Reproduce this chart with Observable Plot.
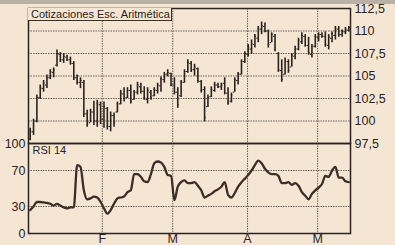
<!DOCTYPE html>
<html><head><meta charset="utf-8">
<script src="https://cdn.jsdelivr.net/npm/d3@7"></script>
<script src="https://cdn.jsdelivr.net/npm/@observablehq/plot@0.6"></script>
<style>
html,body{margin:0;padding:0;}
body{background:#f4e6d3;width:395px;height:245px;overflow:hidden;position:relative;font-family:"Liberation Sans",Arial,sans-serif;color:#2a2420;}
#rsi,#price{position:absolute;left:0;}
#price{top:0;}
#rsi{top:135px;}
#hdr{position:absolute;left:0;top:0;width:395px;height:4px;background:#b9b1a6;overflow:hidden;}
#titlebox{position:absolute;left:28px;top:8px;width:144px;height:13px;border-right:1px solid #3a302a;border-bottom:1px solid #3a302a;background:#f4e6d3;font-size:11px;line-height:13px;padding-left:3px;box-sizing:border-box;white-space:nowrap;}
</style></head><body>
<div id="hdr"></div>
<div id="rsi"></div>
<div id="price"></div>
<div id="titlebox">Cotizaciones Esc. Aritmética</div>
<script>
// price bars (trading-day index 0..95)
const high = [99.2,100.2,102.9,104.0,104.5,105.1,105.7,105.9,107.9,107.6,107.5,107.3,107.1,106.6,105.1,104.8,104.5,101.2,101.3,102.2,102.3,102.1,102.1,101.5,101.0,100.9,102.1,103.4,103.7,103.7,104.0,103.4,104.3,104.2,103.8,103.7,103.4,103.7,104.2,104.9,105.4,105.7,105.3,104.8,103.7,104.5,105.7,106.8,106.6,106.3,105.9,104.5,103.8,102.9,103.8,104.3,104.2,104.2,104.8,103.7,103.1,104.8,105.4,106.8,107.7,108.5,109.0,109.6,110.5,111.0,110.9,110.1,109.8,109.6,107.6,106.8,107.0,106.8,107.5,108.3,109.2,109.8,109.6,109.3,108.5,109.6,109.8,109.8,109.9,109.6,109.9,110.5,110.5,110.1,110.4,110.5];
const low = [97.8,98.4,99.8,102.4,103.2,103.6,104.6,104.8,106.0,106.5,106.4,106.6,106.2,104.5,104.0,103.6,100.4,99.3,99.8,99.5,99.3,99.6,99.2,99.0,98.8,99.3,100.9,101.8,102.1,102.5,101.9,102.3,102.9,103.0,102.3,101.9,102.3,102.7,103.0,103.2,104.2,104.9,103.8,102.9,101.4,102.6,104.2,105.3,105.4,105.0,104.2,103.1,99.9,101.5,102.6,103.2,103.6,103.4,102.9,101.75,102.0,103.2,104.0,105.1,106.4,107.1,107.4,108.1,108.7,109.6,109.8,108.1,108.7,107.7,105.4,104.3,105.1,105.3,106.0,106.8,107.8,108.5,108.2,107.3,107.0,108.1,108.8,109.2,108.2,107.9,108.7,109.0,109.3,109.3,109.6,109.9];
const open = [98.0,98.8,100.0,102.6,103.6,104.0,104.8,105.4,106.2,107.4,106.8,107.1,106.8,106.4,104.8,104.3,104.3,100.8,99.8,101.0,100.0,101.8,100.2,101.4,99.4,100.6,101.0,101.9,103.0,102.6,103.4,102.4,103.2,103.8,103.3,102.4,103.2,102.8,103.4,103.9,104.6,105.2,105.3,104.0,103.2,102.8,104.3,105.5,106.4,105.7,105.8,104.4,103.5,101.6,102.7,103.4,104.0,103.8,104.2,103.1,102.2,103.2,104.5,105.2,106.6,107.4,108.0,108.5,109.2,110.2,110.5,110.0,108.7,109.4,107.5,105.6,105.2,106.6,106.0,107.2,108.0,108.8,109.4,108.4,107.4,108.3,109.3,109.6,109.4,108.4,109.2,109.5,110.2,109.6,109.9,110.1];
const close = [99.0,100.0,102.6,103.7,104.2,104.8,105.5,105.7,107.5,106.8,107.2,106.8,106.4,104.8,104.3,104.5,100.8,99.6,101.0,100.0,102.0,100.2,101.6,99.4,100.6,99.8,101.9,103.1,102.5,103.4,102.2,103.2,104.0,103.3,102.6,103.4,102.6,103.5,104.0,104.7,105.2,105.4,104.0,103.2,101.8,104.3,105.5,106.5,105.7,106.0,104.5,103.4,100.4,102.6,103.5,104.0,103.8,104.0,103.1,102.0,102.9,104.6,105.2,106.6,107.5,108.2,108.6,109.4,110.3,110.6,110.0,108.5,109.6,107.9,105.7,104.6,106.8,105.6,107.3,108.0,109.0,109.5,108.4,107.6,108.3,109.4,109.6,109.4,108.5,109.3,109.7,110.3,109.6,110.0,110.2,110.4];
// RSI 14 per trading day
const rsi = [26,30,35,35,34.5,34,33,31,33,31,29,28,29,29,76,74,48,38,39,41,40,35,28,22,26,33,39,40,41,46,48,66,66,63,58,57,66,78,80,79,74,65,64,37,52,57,59,56,56,57,53,48,40,42,44,47,49,52,57,43,40,45,52,57,61,65,70,76,81,78,72,68,66,66,64,56,56,57,54,56,53,46,42,38,44,48,51,55,64,63,70,74,62,62,58,57];
// axes
const priceTicks = [97.5,100,102.5,105,107.5,110,112.5];
const rsiTicks = [0,30,70,100];
const monthTicks = [22,43,65.3,86.2];
const monthLabels = ["F","M","A","M"];

const ink = "#2b231e";
const gridCol = "#6e655c";
const font = "'Liberation Sans', Arial, sans-serif";
const bars = d3.range(high.length).map(i => ({i, h: high[i], l: low[i], o: open[i], c: close[i]}));
const rsiData = rsi.map((v, i) => ({i, v}));

const price = Plot.plot({
  width: 395, height: 145,
  marginLeft: 28, marginRight: 45, marginTop: 8, marginBottom: 2,
  style: {background: "transparent", fontFamily: font, fontSize: "12.5px", color: ink, overflow: "visible"},
  x: {domain: [0, 96], axis: null},
  y: {domain: [97.5, 112.5], ticks: priceTicks, tickFormat: d => String(d).replace(".", ","), axis: "right", tickSize: 0, tickPadding: 4, label: null},
  marks: [
    Plot.gridY(priceTicks.slice(1, -1), {stroke: gridCol, strokeOpacity: 1, strokeWidth: 1, strokeDasharray: "1.5,1"}),
    Plot.gridX(monthTicks, {stroke: gridCol, strokeOpacity: 1, strokeWidth: 1, strokeDasharray: "1.5,1"}),
    Plot.ruleX(bars, {x: d => d.i + 0.5, y1: "l", y2: "h", stroke: ink, strokeWidth: 1.6}),
    Plot.ruleY(bars, {y: "o", x1: d => d.i + 0.05, x2: d => d.i + 0.5, stroke: ink, strokeWidth: 1}),
    Plot.ruleY(bars, {y: "c", x1: d => d.i + 0.5, x2: d => d.i + 0.95, stroke: ink, strokeWidth: 1}),
    Plot.frame({stroke: ink, strokeWidth: 1.5})
  ]
});
document.getElementById("price").append(price);

const rsiPlot = Plot.plot({
  width: 395, height: 110,
  marginLeft: 28, marginRight: 45, marginTop: 8, marginBottom: 12,
  style: {background: "transparent", fontFamily: font, fontSize: "12.5px", color: ink, overflow: "visible"},
  x: {domain: [0, 96], ticks: monthTicks, tickFormat: d => monthLabels[monthTicks.indexOf(d)], tickSize: 0, tickPadding: 1, label: null},
  y: {domain: [0, 100], ticks: rsiTicks, tickSize: 0, tickPadding: 3, label: null},
  marks: [
    Plot.gridY([30, 70], {stroke: gridCol, strokeOpacity: 1, strokeWidth: 1, strokeDasharray: "1.5,1"}),
    Plot.gridX(monthTicks, {stroke: gridCol, strokeOpacity: 1, strokeWidth: 1, strokeDasharray: "1.5,1"}),
    Plot.line(rsiData, {x: d => d.i + 0.5, y: "v", stroke: "#3a2e26", strokeWidth: 2.3, strokeLinejoin: "round", curve: "monotone-x"}),
    Plot.text(["RSI 14"], {frameAnchor: "top-left", dx: 4, dy: 3, fontSize: 11, fill: ink}),
    Plot.frame({stroke: ink, strokeWidth: 1.5})
  ]
});
document.getElementById("rsi").append(rsiPlot);
</script>
</body></html>
